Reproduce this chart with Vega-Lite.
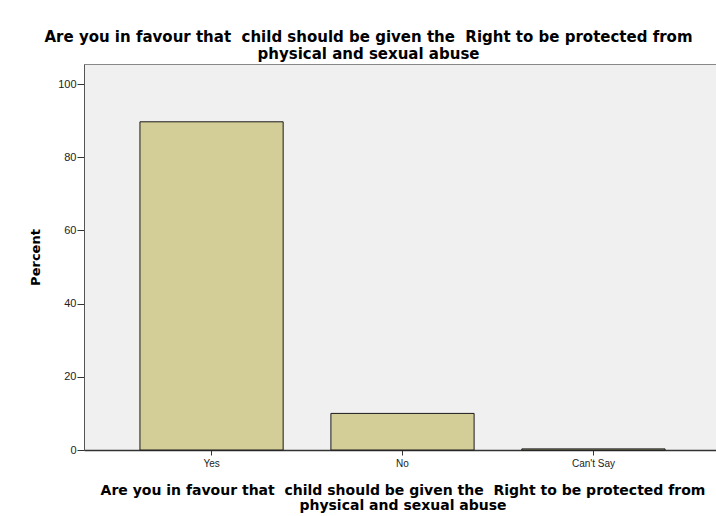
{
  "$schema": "https://vega.github.io/schema/vega-lite/v6.json",
  "width": 637,
  "height": 386,
  "autosize": {"type": "none"},
  "padding": {"left": 84, "top": 64, "right": 0, "bottom": 66},
  "background": "white",
  "title": {
    "text": ["Are you in favour that \u00a0child should be given the \u00a0Right to be protected from", "physical and sexual abuse"],
    "font": "DejaVu Sans",
    "fontWeight": "bold",
    "fontSize": 15,
    "lineHeight": 17,
    "color": "black",
    "anchor": "middle",
    "dx": -34,
    "offset": 2
  },
  "data": {
    "values": [
      {"answer": "Yes", "percent": 89.7},
      {"answer": "No", "percent": 10.0},
      {"answer": "Can't Say", "percent": 0.3}
    ]
  },
  "mark": {"type": "bar", "color": "#D3CE97", "stroke": "#1a1a1a", "strokeWidth": 1},
  "encoding": {
    "x": {
      "field": "answer",
      "type": "nominal",
      "sort": ["Yes", "No", "Can't Say"],
      "scale": {"paddingInner": 0.25, "paddingOuter": 0.293},
      "axis": {
        "title": ["Are you in favour that \u00a0child should be given the \u00a0Right to be protected from", "physical and sexual abuse"],
        "titleFont": "DejaVu Sans",
        "titleFontWeight": "bold",
        "titleFontSize": 14,
        "titleLineHeight": 15,
        "titleColor": "black",
        "titlePadding": 15,
        "labelAngle": 0,
        "labelFont": "Liberation Sans",
        "labelFontSize": 10,
        "labelColor": "#222",
        "labelPadding": 3,
        "tickSize": 5,
        "tickColor": "#333",
        "domainColor": "#333",
        "domainWidth": 1.5
      }
    },
    "y": {
      "field": "percent",
      "type": "quantitative",
      "scale": {"domain": [0, 105.5], "nice": false},
      "axis": {
        "title": "Percent",
        "titleFont": "DejaVu Sans",
        "titleFontWeight": "bold",
        "titleFontSize": 13,
        "titleColor": "black",
        "titlePadding": 15,
        "values": [0, 20, 40, 60, 80, 100],
        "grid": false,
        "labelFont": "Liberation Sans",
        "labelFontSize": 11,
        "labelColor": "#222",
        "labelPadding": 1,
        "tickSize": 7,
        "tickColor": "#333",
        "domainColor": "#555"
      }
    }
  },
  "config": {
    "view": {"fill": "#F0F0F0", "stroke": "#888888", "strokeWidth": 1}
  }
}
